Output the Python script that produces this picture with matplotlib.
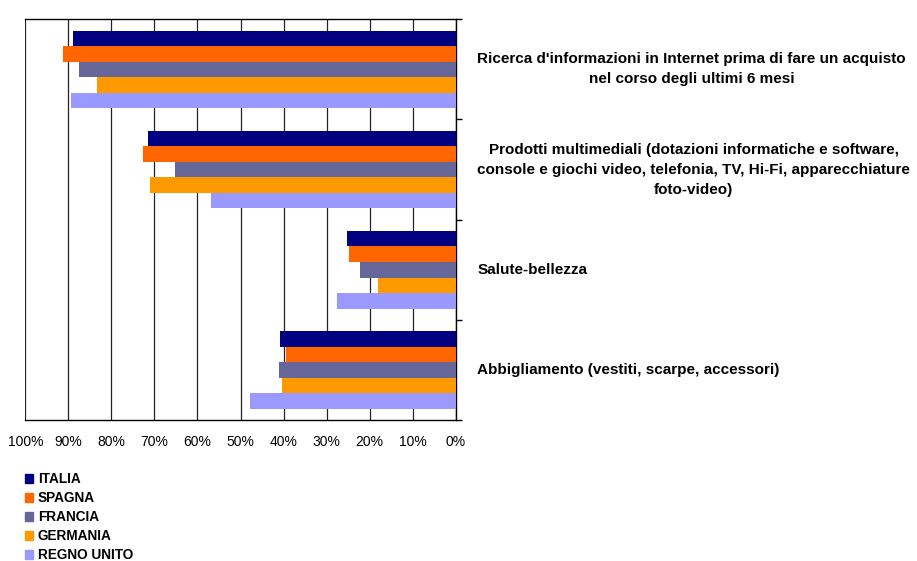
import numpy as np
import matplotlib.pyplot as plt
from matplotlib.patches import Rectangle

plt.rcParams['font.family'] = ['Liberation Sans', 'DejaVu Sans']

categories = [
    "Ricerca d'informazioni in Internet prima di fare un acquisto\nnel corso degli ultimi 6 mesi",
    "Prodotti multimediali (dotazioni informatiche e software,\nconsole e giochi video, telefonia, TV, Hi-Fi, apparecchiature\nfoto-video)",
    "Salute-bellezza",
    "Abbigliamento (vestiti, scarpe, accessori)",
]
countries = ['ITALIA', 'SPAGNA', 'FRANCIA', 'GERMANIA', 'REGNO UNITO']
colors = ['#000080', '#FF6600', '#666699', '#FF9900', '#9999FF']

# percentuali per paese, nell'ordine delle categorie
italia = [89, 71.5, 25.3, 40.8]
spagna = [91.2, 72.6, 24.8, 39.4]
francia = [87.5, 65.2, 22.2, 41.1]
germania = [83.3, 71.0, 18.1, 40.4]
regno_unito = [89.4, 56.8, 27.6, 47.8]
series = [italia, spagna, francia, germania, regno_unito]

xticks = np.arange(0, 101, 10)
xticklabels = [f'{v}%' for v in xticks]

fig = plt.figure(figsize=(9.17, 5.61), dpi=100)
ax = fig.add_axes([0.0276, 0.2513, 0.4694, 0.7143])

n = len(categories)
centers = np.arange(n)[::-1] + 0.5
h = 0.155
for j, (vals, c, name) in enumerate(zip(series, colors, countries)):
    ax.barh(centers + (2 - j) * h, vals, height=h, color=c, label=name, zorder=3)

ax.set_xlim(100, 0)
ax.set_ylim(0, n)
ax.set_xticks(xticks)
ax.set_xticklabels(xticklabels, fontsize=10)
ax.tick_params(axis='x', length=0, pad=11)
ax.xaxis.grid(True, color='#222222', linewidth=0.9, zorder=0)

ax.yaxis.tick_right()
ax.set_yticks(np.arange(n + 1))
ax.set_yticklabels([])
ax.tick_params(axis='y', direction='out', length=4.5, width=1, color='black')

ax.spines['left'].set_visible(False)
for s in ['top', 'bottom', 'right']:
    ax.spines[s].set_color('black')
    ax.spines[s].set_linewidth(1)

# etichette delle categorie a destra del grafico
for lab, yc in zip(categories, centers):
    ax.text(1.05, yc / n, lab, transform=ax.transAxes, ha='left', va='center',
            multialignment='center', fontsize=11, fontweight='bold', linespacing=1.55)

# legenda con quadratini
W, H = 917, 561
for j, (name, c) in enumerate(zip(countries, colors)):
    yc = 479 + j * 19
    fig.patches.append(Rectangle((25 / W, 1 - (yc + 4) / H), 8 / W, 9 / H,
                                 transform=fig.transFigure, color=c))
    fig.text(38 / W, 1 - yc / H, name, ha='left', va='center',
             fontsize=9.8, fontweight='bold')

fig.savefig('out.png', dpi=100, facecolor='white')
